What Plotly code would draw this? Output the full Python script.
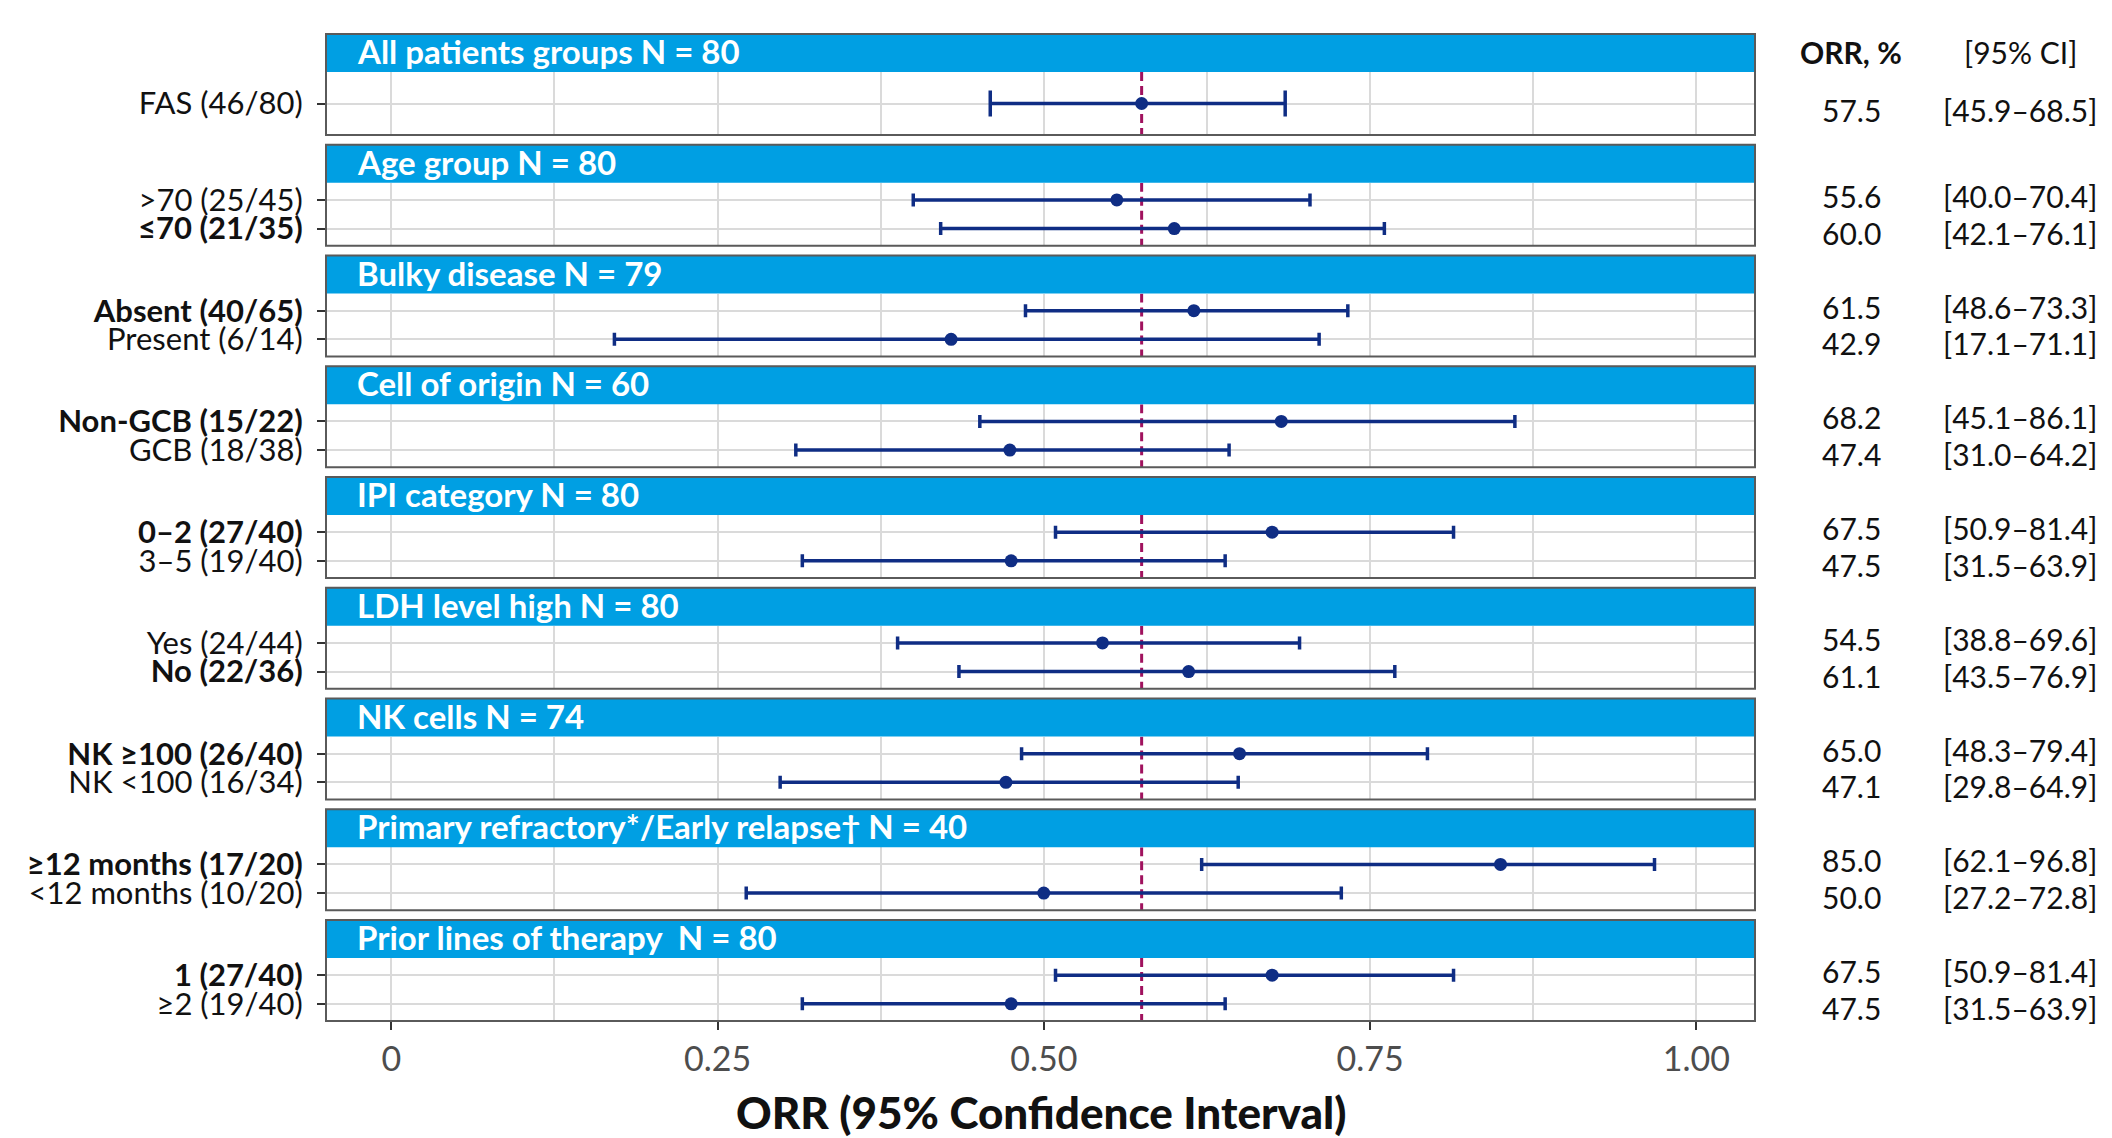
import plotly.graph_objects as go

# Subgroup panels: strip title, row labels, bold flags, ORR and 95% CI (percent)
panel_titles = [
    "All patients groups N = 80",
    "Age group N = 80",
    "Bulky disease N = 79",
    "Cell of origin N = 60",
    "IPI category N = 80",
    "LDH level high N = 80",
    "NK cells N = 74",
    "Primary refractory*/Early relapse† N = 40",
    "Prior lines of therapy  N = 80",
]
row_labels = [
    ["FAS (46/80)"],
    [">70 (25/45)", "≤70 (21/35)"],
    ["Absent (40/65)", "Present (6/14)"],
    ["Non-GCB (15/22)", "GCB (18/38)"],
    ["0–2 (27/40)", "3–5 (19/40)"],
    ["Yes (24/44)", "No (22/36)"],
    ["NK ≥100 (26/40)", "NK <100 (16/34)"],
    ["≥12 months (17/20)", "<12 months (10/20)"],
    ["1 (27/40)", "≥2 (19/40)"],
]
row_bold = [
    [False],
    [False, True],
    [True, False],
    [True, False],
    [True, False],
    [False, True],
    [True, False],
    [True, False],
    [True, False],
]
orr = [
    [57.5],
    [55.6, 60.0],
    [61.5, 42.9],
    [68.2, 47.4],
    [67.5, 47.5],
    [54.5, 61.1],
    [65.0, 47.1],
    [85.0, 50.0],
    [67.5, 47.5],
]
ci_low = [
    [45.9],
    [40.0, 42.1],
    [48.6, 17.1],
    [45.1, 31.0],
    [50.9, 31.5],
    [38.8, 43.5],
    [48.3, 29.8],
    [62.1, 27.2],
    [50.9, 31.5],
]
ci_high = [
    [68.5],
    [70.4, 76.1],
    [73.3, 71.1],
    [86.1, 64.2],
    [81.4, 63.9],
    [69.6, 76.9],
    [79.4, 64.9],
    [96.8, 72.8],
    [81.4, 63.9],
]
x_ticks = [0, 0.25, 0.5, 0.75, 1.0]
x_tick_text = ["0", "0.25", "0.50", "0.75", "1.00"]

# Styling
W, H = 2112, 1138
FONT = "Lato"
STRIP = "#009fe3"
NAVY = "#0f2d84"
REF = "#a0125e"
BORDER = "#5a5a5a"
GRID = "#dadada"

# Geometry in pixels
left, right, top, bottom = 326, 2112 - 1755, 34, 1138 - 1021
plot_h = H - top - bottom
panel_h = 101
strip_h = 38
gap = (plot_h - 9 * panel_h) / 8


def py(px):
    """Pixel offset from the top of the plotting area -> paper y."""
    return 1 - px / plot_h


def px_x(px):
    return (px - left) / (W - left - right)


ref_value = orr[0][0] / 100

fig = go.Figure()
shapes = []
annotations = []
n = len(panel_titles)

for k in range(n):
    ax = "" if k == 0 else str(k + 1)
    ptop = k * (panel_h + gap)
    strip_bot = ptop + strip_h
    pbot = ptop + panel_h
    nrows = len(row_labels[k])
    ypos = list(range(1, nrows + 1))
    y_lo, y_hi = 0.4, nrows + 0.6
    xs = [v / 100 for v in orr[k]]
    plus = [(h - v) / 100 for h, v in zip(ci_high[k], orr[k])]
    minus = [(v - l) / 100 for l, v in zip(ci_low[k], orr[k])]
    cap = 13 if nrows == 1 else 6.5

    # Dashed reference line at the overall ORR
    fig.add_trace(go.Scatter(
        x=[ref_value, ref_value], y=[y_lo, y_hi], mode="lines",
        xaxis="x" + ax, yaxis="y" + ax,
        line=dict(color=REF, width=3, dash="9px,5px"),
        showlegend=False, hoverinfo="skip",
    ))
    fig.add_trace(go.Scatter(
        x=xs, y=ypos, mode="markers",
        xaxis="x" + ax, yaxis="y" + ax,
        marker=dict(size=13, color=NAVY),
        error_x=dict(type="data", symmetric=False, array=plus, arrayminus=minus,
                     color=NAVY, thickness=3.5, width=cap),
        showlegend=False, hoverinfo="skip",
    ))

    last = k == n - 1
    fig.layout["xaxis" + ax] = dict(
        domain=[0, 1], anchor="y" + ax, range=[-0.05, 1.045],
        tickvals=x_ticks, ticktext=x_tick_text,
        showgrid=True, gridcolor=GRID, gridwidth=1.5,
        minor=dict(dtick=0.125, tick0=0, showgrid=True,
                   gridcolor=GRID, gridwidth=1.5),
        zeroline=False, showline=False,
        showticklabels=last, ticks="outside" if last else "",
        ticklen=8, tickwidth=2, tickcolor="#333333",
        tickfont=dict(family=FONT, size=34, color="#4d4d4d"),
    )
    ticktext = [f"<b>{t}</b>" if b else t for t, b in zip(row_labels[k], row_bold[k])]
    fig.layout["yaxis" + ax] = dict(
        domain=[py(pbot), py(strip_bot)], anchor="x" + ax,
        range=[y_hi, y_lo],
        tickvals=ypos, ticktext=ticktext,
        showgrid=True, gridcolor=GRID, gridwidth=2,
        zeroline=False, showline=False,
        ticks="outside", ticklen=8, tickwidth=2, tickcolor="#333333",
        tickfont=dict(family=FONT, size=31, color="#111111"),
        ticklabelstandoff=8,
    )

    # Strip and panel frame
    shapes.append(dict(type="rect", xref="paper", yref="paper",
                       x0=0, x1=1, y0=py(strip_bot), y1=py(ptop),
                       fillcolor=STRIP, line=dict(width=0), layer="above"))
    shapes.append(dict(type="rect", xref="paper", yref="paper",
                       x0=0, x1=1, y0=py(pbot), y1=py(ptop),
                       fillcolor="rgba(0,0,0,0)", line=dict(color=BORDER, width=2),
                       layer="above"))
    annotations.append(dict(text=panel_titles[k], xref="paper", yref="paper",
                            x=px_x(355), y=py(ptop + strip_h / 2 - 2),
                            xanchor="left", yanchor="middle", showarrow=False,
                            font=dict(family=FONT, size=33, color="white", weight=700)))

    # Right-hand table of ORR and CI
    if nrows == 1:
        text_y = [1.12]
    else:
        mid = (nrows + 1) / 2
        text_y = [mid - 0.64, mid + 0.64]
    for v, lo, hi, ty in zip(orr[k], ci_low[k], ci_high[k], text_y):
        annotations.append(dict(text=f"{v:.1f}", xref="paper", yref="y" + ax,
                                x=px_x(1851), y=ty, xanchor="center", yanchor="middle",
                                showarrow=False,
                                font=dict(family=FONT, size=30, color="#111111")))
        annotations.append(dict(text=f"[{lo:.1f}–{hi:.1f}]", xref="paper", yref="y" + ax,
                                x=px_x(2020), y=ty, xanchor="center", yanchor="middle",
                                showarrow=False,
                                font=dict(family=FONT, size=30, color="#111111")))

# Table headers
header_y = py(strip_h / 2 - 1)
annotations.append(dict(text="<b>ORR, %</b>", xref="paper", yref="paper",
                        x=px_x(1851), y=header_y, xanchor="center", yanchor="middle",
                        showarrow=False, font=dict(family=FONT, size=30, color="#111111")))
annotations.append(dict(text="[95% CI]", xref="paper", yref="paper",
                        x=px_x(2020), y=header_y, xanchor="center", yanchor="middle",
                        showarrow=False, font=dict(family=FONT, size=30, color="#111111")))

# x-axis title
annotations.append(dict(text="ORR (95% Confidence Interval)", xref="paper", yref="paper",
                        x=px_x((326 + 1755) / 2), y=py(1112 - top), xanchor="center",
                        yanchor="middle", showarrow=False,
                        font=dict(family=FONT, size=44, color="#111111", weight=900)))

fig.update_layout(
    width=W, height=H,
    margin=dict(l=left, r=right, t=top, b=bottom, autoexpand=False),
    paper_bgcolor="white", plot_bgcolor="white",
    shapes=shapes, annotations=annotations,
    font=dict(family=FONT),
)

fig.write_html("out.html")
